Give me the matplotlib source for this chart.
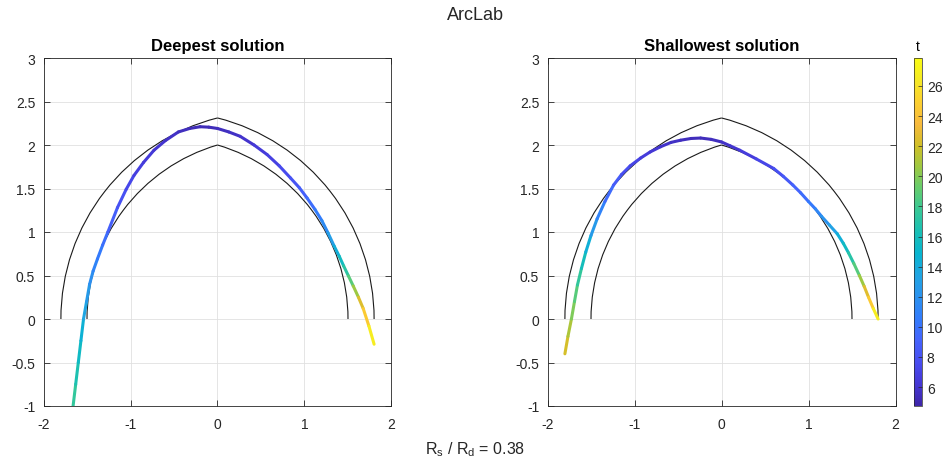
import numpy as np
import matplotlib
matplotlib.use('Agg')
import matplotlib.pyplot as plt
from matplotlib.collections import LineCollection
from matplotlib.colors import LinearSegmentedColormap, Normalize
from matplotlib.patches import Arc

plt.rcParams['font.family'] = ['Liberation Sans', 'DejaVu Sans']
plt.rcParams['mathtext.fontset'] = 'custom'
plt.rcParams['mathtext.rm'] = 'Liberation Sans'

# arch geometry: intrados / extrados springing half-spans and intrados crown rise
intrados_span = 1.5
extrados_span = 1.8
intrados_rise = 2.0

# deepest solution: line of thrust and its t values
deep_x = [-1.66, -1.63, -1.60, -1.57, -1.54, -1.505, -1.47, -1.43, -1.38, -1.32, -1.26,
          -1.15, -1.05, -0.96, -0.85, -0.73, -0.60, -0.45, -0.32, -0.20, -0.10,
          0.00, 0.13, 0.26, 0.42, 0.57, 0.71, 0.84, 0.94, 1.03, 1.12, 1.20,
          1.27, 1.34, 1.40, 1.45, 1.505, 1.56, 1.62, 1.675, 1.74, 1.80]
deep_y = [-1.00, -0.75, -0.50, -0.25, 0.00, 0.20, 0.40, 0.55, 0.69, 0.85, 1.00,
          1.28, 1.49, 1.65, 1.80, 1.94, 2.05, 2.15, 2.19, 2.21, 2.205,
          2.19, 2.15, 2.10, 2.00, 1.89, 1.76, 1.62, 1.51, 1.39, 1.26, 1.13,
          0.99, 0.84, 0.72, 0.61, 0.495, 0.38, 0.25, 0.12, -0.08, -0.29]
deep_t = [18.0, 17.0, 16.0, 15.0, 14.0, 13.0, 12.2, 11.5, 10.8, 10.1, 9.4,
          8.3, 7.6, 7.0, 6.6, 6.2, 5.9, 5.6, 5.4, 5.3, 5.3,
          5.4, 5.6, 5.8, 6.2, 6.6, 7.2, 7.8, 8.5, 9.2, 10.1, 11.0,
          12.2, 13.6, 15.0, 16.4, 18.0, 19.6, 21.5, 23.5, 25.6, 27.8]

# shallowest solution
shallow_x = [-1.80, -1.765, -1.725, -1.69, -1.656, -1.61, -1.56, -1.50, -1.43, -1.34, -1.24,
             -1.15, -1.05, -0.93, -0.82, -0.70, -0.58, -0.47, -0.35, -0.24, -0.12,
             0.00, 0.10, 0.21, 0.40, 0.60, 0.71, 0.82, 0.91, 1.00, 1.08, 1.15,
             1.24, 1.33, 1.40, 1.46, 1.52, 1.585, 1.64, 1.69, 1.745, 1.80]
shallow_y = [-0.40, -0.20, 0.00, 0.20, 0.39, 0.58, 0.77, 0.96, 1.15, 1.35, 1.54,
             1.66, 1.76, 1.85, 1.92, 1.98, 2.03, 2.055, 2.075, 2.08, 2.065,
             2.035, 1.99, 1.94, 1.84, 1.73, 1.64, 1.54, 1.45, 1.35, 1.265, 1.18,
             1.08, 0.98, 0.87, 0.76, 0.64, 0.50, 0.375, 0.25, 0.12, 0.00]
shallow_t = [22.8, 21.6, 20.4, 19.3, 18.2, 16.8, 15.2, 13.5, 11.8, 10.2, 9.0,
             8.1, 7.4, 6.8, 6.4, 6.0, 5.8, 5.6, 5.5, 5.4, 5.5,
             5.6, 5.9, 6.2, 6.9, 7.6, 8.2, 8.8, 9.4, 10.0, 10.8, 11.6,
             12.6, 13.8, 15.0, 16.2, 17.8, 19.6, 21.6, 23.6, 25.6, 27.8]

t_range = [4.74, 27.86]
cbar_ticks = [6, 8, 10, 12, 14, 16, 18, 20, 22, 24, 26]
x_ticks = [-2, -1, 0, 1, 2]
y_ticks = [-1, -0.5, 0, 0.5, 1, 1.5, 2, 2.5, 3]
titles = ['Deepest solution', 'Shallowest solution']
ratio_text = r'R$_\mathregular{s}$ / R$_\mathregular{d}$ = 0.38'

# parula colour map (sampled)
parula = LinearSegmentedColormap.from_list('parula', [
    (0.2422, 0.1504, 0.6603), (0.2706, 0.2147, 0.8364), (0.2813, 0.3006, 0.9414),
    (0.2699, 0.3892, 0.9906), (0.1963, 0.4847, 0.9892), (0.1687, 0.5703, 0.9359),
    (0.1248, 0.6459, 0.8883), (0.0297, 0.7082, 0.8163), (0.0964, 0.7500, 0.7120),
    (0.2161, 0.7843, 0.5923), (0.3909, 0.8029, 0.4354), (0.6174, 0.7876, 0.2612),
    (0.8203, 0.7498, 0.1535), (0.9728, 0.7298, 0.2394), (0.9892, 0.8136, 0.1885),
    (0.9597, 0.9135, 0.1423), (0.9769, 0.9839, 0.0805)])
norm = Normalize(*t_range)

fig = plt.figure(figsize=(9.5, 4.64), dpi=100)
ax_pos = [[43 / 950, 57 / 464, 349 / 950, 348 / 464],
          [547 / 950, 57 / 464, 349 / 950, 348 / 464]]

# circle centre offset and radii of the pointed arch
c = (intrados_rise ** 2 - intrados_span ** 2) / (2 * intrados_span)
r_in = c + intrados_span
r_out = c + extrados_span
ang_in = np.degrees(np.arctan2(intrados_rise, -c))
ang_out = np.degrees(np.arctan2(np.sqrt(r_out ** 2 - c ** 2), -c))

for pos, title, xs, ys, ts in zip(ax_pos, titles, [deep_x, shallow_x],
                                  [deep_y, shallow_y], [deep_t, shallow_t]):
    ax = fig.add_axes(pos)
    # arch outline
    for r, a in [(r_in, ang_in), (r_out, ang_out)]:
        ax.add_patch(Arc((c, 0), 2 * r, 2 * r, theta1=a, theta2=180, color='#1a1a1a', lw=0.8))
        ax.add_patch(Arc((-c, 0), 2 * r, 2 * r, theta1=0, theta2=180 - a, color='#1a1a1a', lw=0.8))
    # line of thrust coloured by t
    pts = np.column_stack([xs, ys])
    segs = np.stack([pts[:-1], pts[1:]], axis=1)
    ts = np.asarray(ts)
    lc = LineCollection(segs, cmap=parula, norm=norm, lw=2.2, capstyle='round', zorder=3)
    lc.set_array(0.5 * (ts[:-1] + ts[1:]))
    ax.add_collection(lc)

    ax.set_xlim(-2, 2)
    ax.set_ylim(-1, 3)
    ax.set_aspect('equal')
    ax.set_xticks(x_ticks)
    ax.set_xticklabels(['%g' % v for v in x_ticks])
    ax.set_yticks(y_ticks)
    ax.set_yticklabels(['%g' % v for v in y_ticks])
    ax.grid(True, color='#e0e0e0', lw=0.6)
    ax.set_axisbelow(True)
    ax.tick_params(direction='in', top=True, right=True, length=4, width=0.6,
                   colors='#262626', labelsize=10, pad=6)
    ax.tick_params(axis='x', pad=8)
    for s in ax.spines.values():
        s.set_color('#262626')
        s.set_linewidth(0.6)
    ax.set_title(title, fontweight='bold', fontsize=12, pad=6)

# colour bar
cax = fig.add_axes([914 / 950, 57 / 464, 8 / 950, 348 / 464])
sm = plt.cm.ScalarMappable(cmap=parula, norm=norm)
cb = fig.colorbar(sm, cax=cax, ticks=cbar_ticks)
cb.outline.set_linewidth(0.5)
cb.outline.set_edgecolor('#262626')
cax.tick_params(direction='in', length=3, width=0.5, colors='#262626', labelsize=10)
cax.set_title('t', fontsize=10, pad=6)

fig.text(0.5, 1 - 15 / 464, 'ArcLab', ha='center', va='center', fontsize=13, color='#262626')
fig.text(0.5, 1 - 450 / 464, ratio_text, ha='center', va='center', fontsize=11.5, color='#262626')

fig.savefig('out.png', dpi=100)
